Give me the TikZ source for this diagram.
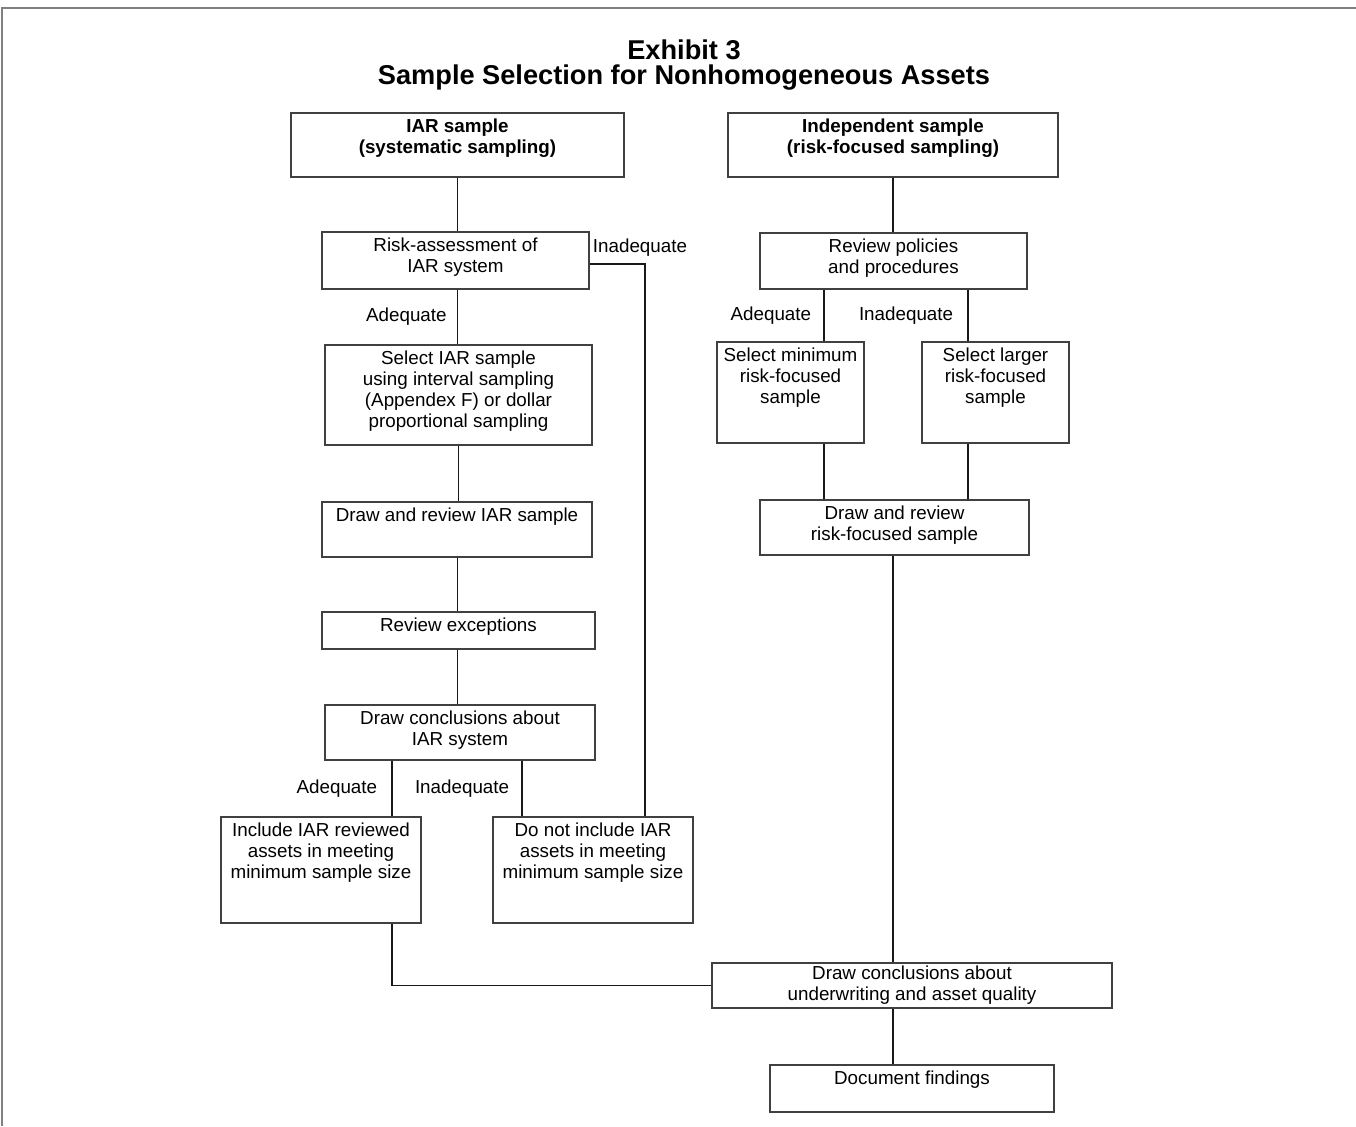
\documentclass[tikz,border=0pt]{standalone}
\usepackage{fontspec}
\setmainfont{Liberation Sans}

\begin{document}
\begin{tikzpicture}[every node/.style={align=center},x=0.5pt,y=-0.5pt]
  \tikzset{
    box/.style={draw=black!75,line width=.7pt,inner sep=0pt},
    wh/.style 2 args={minimum width=#1pt,minimum height=#2pt},
    boxtext/.style={anchor=north,inner sep=0pt,yshift=-3.3pt,
      font=\fontsize{9.4}{10.4}\selectfont},
    headtext/.style={boxtext,font=\fontsize{9.4}{10.4}\selectfont\bfseries},
    lbl/.style={inner sep=0pt,font=\fontsize{9.4}{10.4}\selectfont},
    conn/.style={draw=black!90,line width=.9pt} % connectors
  }
  \useasboundingbox (0,0) rectangle (1356,1126);
  \draw[gray,line width=1pt] (2,1126) -- (2,7.5) -- (1356,7.5); % page frame

  \node[font=\fontsize{13.6}{12.4}\selectfont\bfseries,inner sep=1pt] (title) at (684,65)
    {Exhibit 3\\Sample Selection for Nonhomogeneous Assets};

  % IAR side
  \node[box,wh={166.5}{32},label={[headtext]north:IAR sample\\(systematic sampling)}] (iar) at (457.5,145) {};
  \node[box,wh={133.5}{28.5},label={[boxtext]north:Risk-assessment of\\IAR system}] (risk) at (455.5,260.5) {};
  \node[box,wh={133.5}{50},label={[boxtext]north:Select IAR sample\\using interval sampling\\(Appendex F) or dollar\\proportional sampling}] (sel) at (458.5,395) {};
  \node[box,wh={135}{27.5},label={[boxtext]north:Draw and review IAR sample}] (drawi) at (457,529.5) {};
  \node[box,wh={136.5}{18.5},label={[boxtext]north:Review exceptions}] (exc) at (458.5,630.5) {};
  \node[box,wh={135}{27.5},label={[boxtext]north:Draw conclusions about\\IAR system}] (concl) at (460,732.5) {};
  \node[box,wh={100}{53},label={[boxtext]north:Include IAR reviewed\\assets in meeting\\minimum sample size}] (incl) at (321,870) {};
  \node[box,wh={100}{53},label={[boxtext]north:Do not include IAR\\assets in meeting\\minimum sample size}] (notincl) at (593,870) {};

  % independent side
  \node[box,wh={165}{32},label={[headtext]north:Independent sample\\(risk-focused sampling)}] (ind) at (893,145) {};
  \node[box,wh={133.5}{28},label={[boxtext]north:Review policies\\and procedures}] (pol) at (893.5,261) {};
  \node[box,wh={73.5}{50.5},label={[boxtext]north:Select minimum\\risk-focused\\sample}] (selmin) at (790.5,392.5) {};
  \node[box,wh={73.5}{50.5},label={[boxtext]north:Select larger\\risk-focused\\sample}] (sellg) at (995.5,392.5) {};
  \node[box,wh={134.5}{27.5},label={[boxtext]north:Draw and review\\risk-focused sample}] (drawrf) at (894.5,527.5) {};
  \node[box,wh={200}{22.5},label={[boxtext,yshift=1.5pt]north:Draw conclusions about\\underwriting and asset quality}] (final) at (912,985.5) {};
  \node[box,wh={142}{23.5},label={[boxtext]north:Document findings}] (doc) at (912,1088.5) {};

  % branch positions
  \coordinate (conA) at (392,0);
  \coordinate (conB) at (522,0);
  \coordinate (polA) at (824,0);
  \coordinate (polB) at (968,0);
  \coordinate (inad) at (645,0);

  \draw[conn] (iar.south) -- (iar.south |- risk.north);
  \draw[conn] (risk.south -| iar.south) -- (sel.north -| iar.south)
    node[lbl,midway,left=5pt] (adq1) {Adequate};
  \draw[conn] ([yshift=-1.8pt]risk.east) -| (notincl.north -| inad);
  \node[lbl] (inadq1) at (640,248) {Inadequate};
  \draw[conn] (sel.south) -- (sel.south |- drawi.north);
  \draw[conn] (drawi.south -| iar.south) -- (exc.north -| iar.south);
  \draw[conn] (exc.south -| iar.south) -- (concl.north -| iar.south);
  \draw[conn] (concl.south -| conA) -- (incl.north -| conA)
    node[lbl,midway,left=7pt] (adq2) {Adequate};
  \draw[conn] (concl.south -| conB) -- (notincl.north -| conB)
    node[lbl,midway,left=6pt] (inadq2) {Inadequate};
  \draw[conn] (incl.south -| conA) |- (final.west);

  \draw[conn] (ind.south) -- (ind.south |- pol.north);
  \draw[conn] (pol.south -| polA) -- (selmin.north -| polA)
    node[lbl,midway,left=6pt] (adq3) {Adequate};
  \draw[conn] (pol.south -| polB) -- (sellg.north -| polB)
    node[lbl,midway,left=7pt] (inadq3) {Inadequate};
  \draw[conn] (selmin.south -| polA) -- (drawrf.north -| polA);
  \draw[conn] (sellg.south -| polB) -- (drawrf.north -| polB);
  \draw[conn] (drawrf.south -| ind.south) -- (final.north -| ind.south);
  \draw[conn] (final.south -| ind.south) -- (doc.north -| ind.south);
\end{tikzpicture}
\end{document}
